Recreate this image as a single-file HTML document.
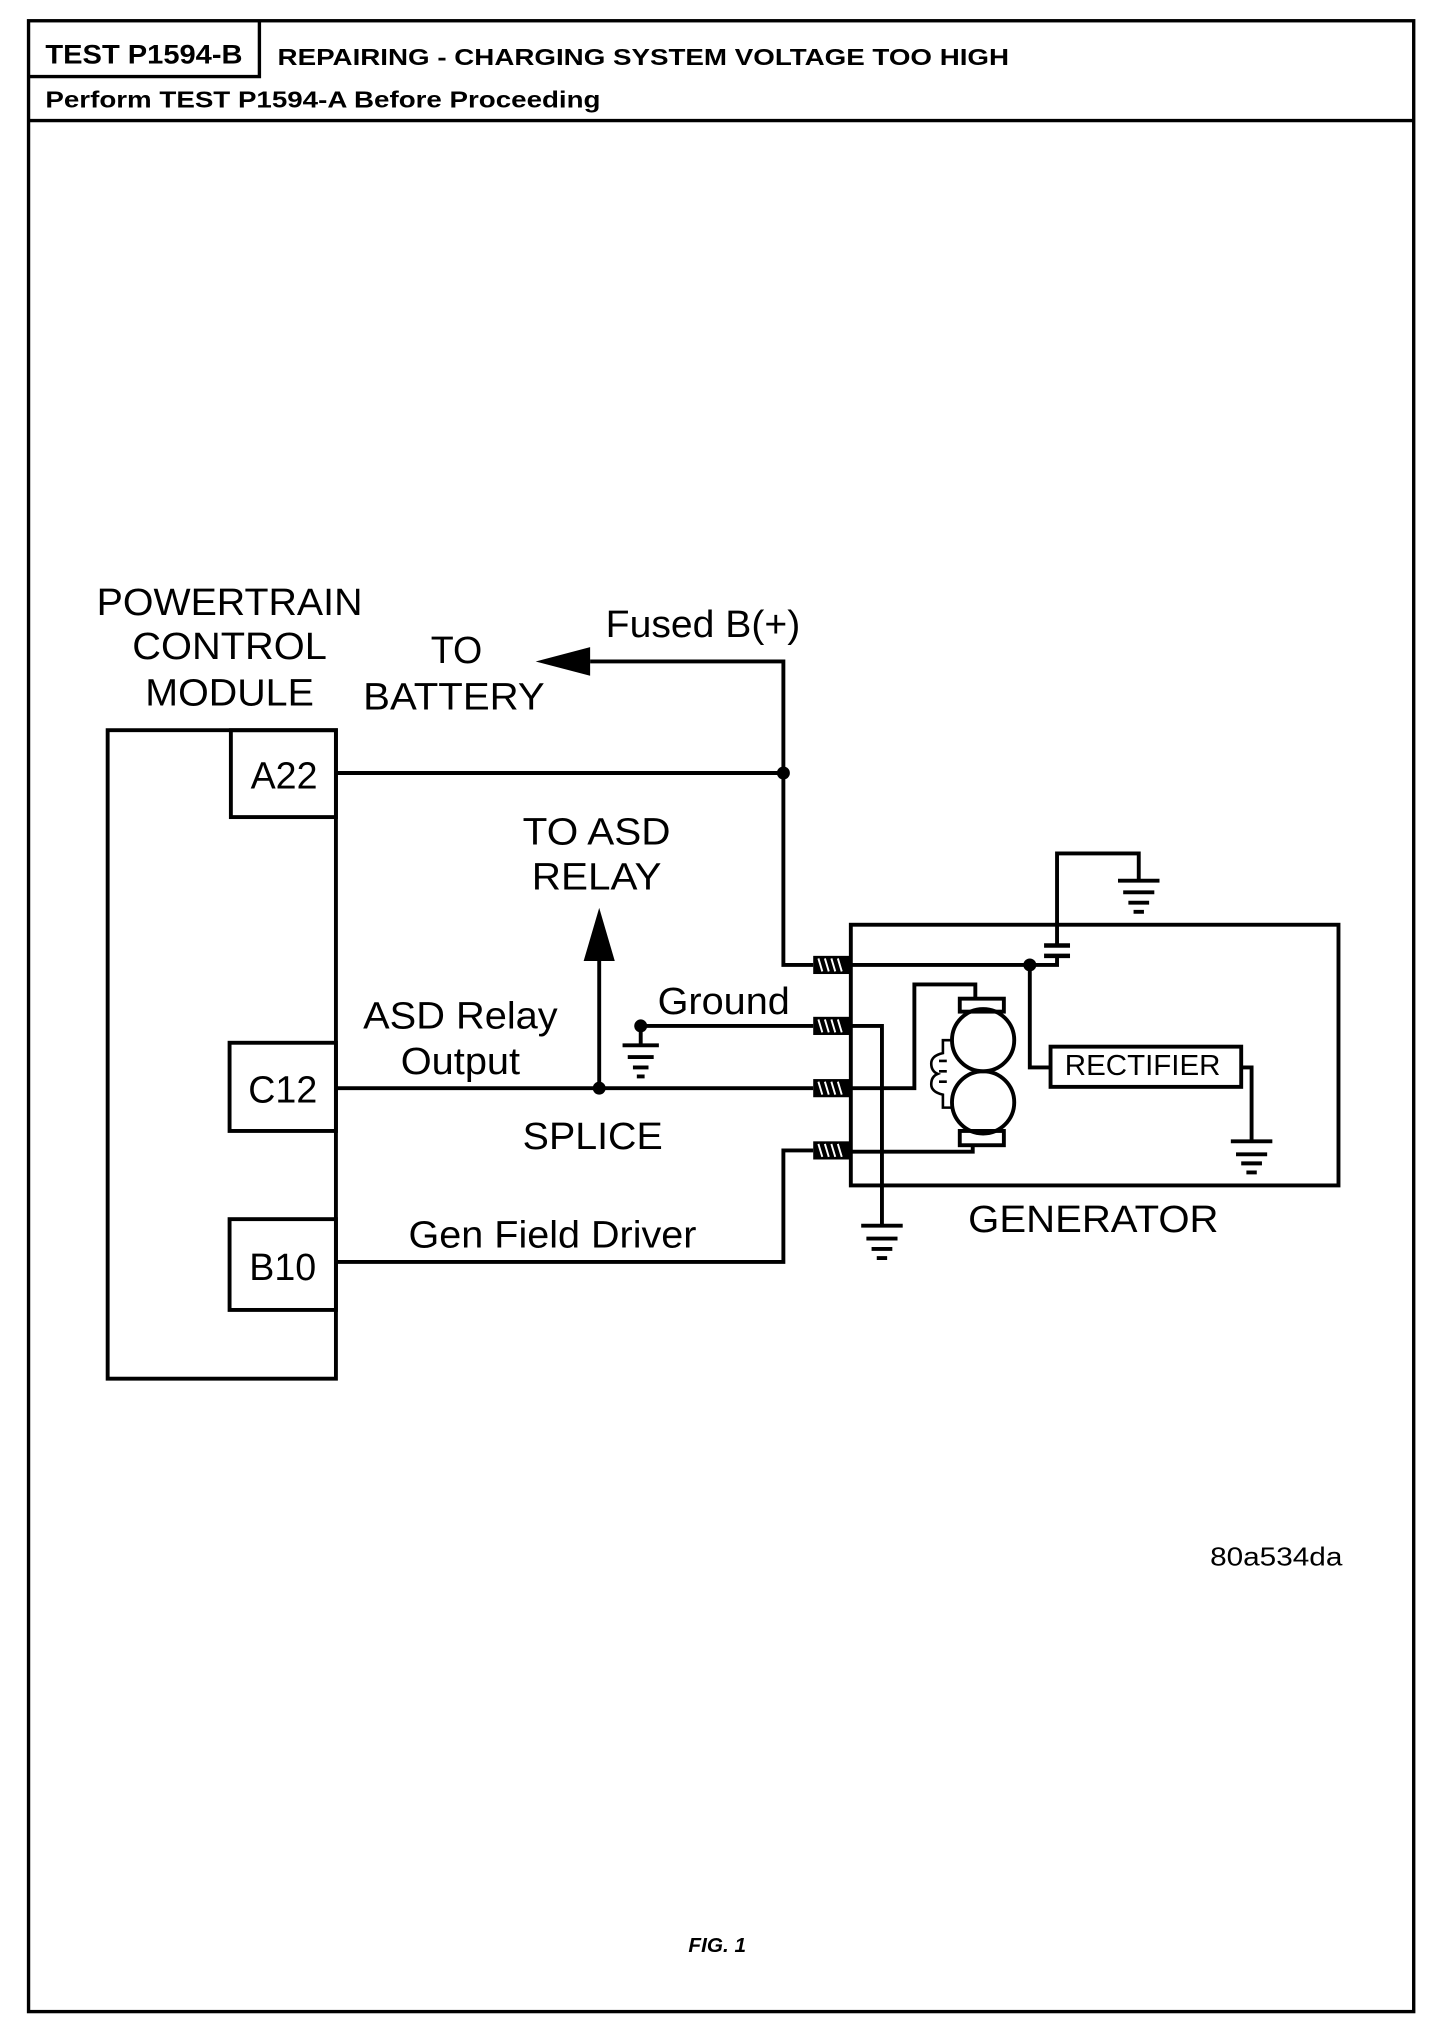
<!DOCTYPE html>
<html><head><meta charset="utf-8"><style>
html,body{margin:0;padding:0;background:#fff;}
svg{display:block;}
text{font-family:"Liberation Sans",Arial,sans-serif;fill:#000;}
</style></head><body>
<svg width="1456" height="2040" viewBox="0 0 1122.6 1572.9" xmlns="http://www.w3.org/2000/svg">
<g fill="none" stroke="#000" stroke-width="2.6">
<rect x="22" y="16" width="1068" height="1535"/>
<line x1="22" y1="93" x2="1090" y2="93"/>
<polyline points="200,16 200,59 22,59"/>
</g>
<text x="35" y="49" font-size="21" font-weight="bold" textLength="152" lengthAdjust="spacingAndGlyphs">TEST P1594-B</text>
<text x="214" y="50" font-size="18" font-weight="bold" textLength="564" lengthAdjust="spacingAndGlyphs">REPAIRING - CHARGING SYSTEM VOLTAGE TOO HIGH</text>
<text x="35" y="83" font-size="18" font-weight="bold" textLength="428" lengthAdjust="spacingAndGlyphs">Perform TEST P1594-A Before Proceeding</text>

<g font-size="29" text-anchor="middle">
<text x="177" y="474" textLength="205" lengthAdjust="spacingAndGlyphs">POWERTRAIN</text>
<text x="177" y="508" textLength="150" lengthAdjust="spacingAndGlyphs">CONTROL</text>
<text x="177" y="544" textLength="130" lengthAdjust="spacingAndGlyphs">MODULE</text>
<text x="352" y="511">TO</text>
<text x="350" y="547" textLength="140" lengthAdjust="spacingAndGlyphs">BATTERY</text>
<text x="460" y="651" textLength="114" lengthAdjust="spacingAndGlyphs">TO ASD</text>
<text x="460" y="686" textLength="100" lengthAdjust="spacingAndGlyphs">RELAY</text>
<text x="355" y="793" textLength="150" lengthAdjust="spacingAndGlyphs">ASD Relay</text>
<text x="355" y="828" textLength="92" lengthAdjust="spacingAndGlyphs">Output</text>
<text x="457" y="886" textLength="108" lengthAdjust="spacingAndGlyphs">SPLICE</text>
<text x="426" y="962" textLength="222" lengthAdjust="spacingAndGlyphs">Gen Field Driver</text>
<text x="542" y="491" textLength="150" lengthAdjust="spacingAndGlyphs">Fused B(+)</text>
<text x="558" y="782" textLength="102" lengthAdjust="spacingAndGlyphs">Ground</text>
<text x="843" y="950" textLength="193" lengthAdjust="spacingAndGlyphs">GENERATOR</text>
<text x="219" y="608">A22</text>
<text x="218" y="850">C12</text>
<text x="218" y="987">B10</text>
</g>
<text x="881" y="829" font-size="22" text-anchor="middle" textLength="120" lengthAdjust="spacingAndGlyphs">RECTIFIER</text>
<text x="984" y="1207" font-size="20" text-anchor="middle" textLength="102" lengthAdjust="spacingAndGlyphs">80a534da</text>
<text x="553" y="1505" font-size="16" font-weight="bold" font-style="italic" text-anchor="middle">FIG. 1</text>

<g fill="none" stroke="#000" stroke-width="3">
<!-- PCM -->
<rect x="83" y="563" width="176" height="500"/>
<rect x="178" y="563" width="81" height="67"/>
<rect x="177" y="804" width="82" height="68"/>
<rect x="177" y="940" width="82" height="70"/>
<!-- wires -->
<polyline points="455,510 604,510 604,744 627,744"/>
<line x1="259" y1="596" x2="604" y2="596"/>
<line x1="259" y1="839" x2="627" y2="839"/>
<line x1="462" y1="839" x2="462" y2="740"/>
<polyline points="259,973 604,973 604,887 627,887"/>
<polyline points="494,791 627,791"/>
<line x1="494" y1="791" x2="494" y2="805"/>
<!-- generator box -->
<rect x="656" y="713" width="376" height="201"/>
<!-- inside generator -->
<polyline points="655,744 815,744 815,737"/>
<line x1="805" y1="737" x2="825" y2="737" stroke-width="3.5"/>
<line x1="805" y1="729" x2="825" y2="729" stroke-width="3.5"/>
<polyline points="815,729 815,658 878,658 878,678"/>
<polyline points="794,744 794,823 810,823"/>
<rect x="810" y="807" width="147" height="31"/>
<polyline points="957,823 965,823 965,880"/>
<polyline points="655,791 680,791 680,945"/>
<polyline points="655,839 705,839 705,759 752,759 752,770"/>
<polyline points="655,888 750,888 750,883"/>
<rect x="740" y="770" width="34" height="10"/>
<rect x="740" y="872" width="34" height="11"/>
<circle cx="758" cy="802" r="24"/>
<circle cx="758" cy="850" r="24"/>
<path d="M734,802 H727 V812 Q718,814 718,820 Q718,826 723,828 Q718,830 718,836 Q718,842 727,844 V854 H734" stroke-width="2"/>
<path d="M724,818 h6 M724,826 h6 M724,834 h6" stroke-width="2"/>
</g>
<!-- arrowheads -->
<polygon points="413,510 455,499 455,521" fill="#000"/>
<polygon points="462,700 450,741 474,741" fill="#000"/>
<!-- dots -->
<g fill="#000">
<circle cx="604" cy="596" r="5"/>
<circle cx="462" cy="839" r="5"/>
<circle cx="494" cy="791" r="5"/>
<circle cx="794" cy="744" r="5"/>
</g>
<!-- connectors -->
<g>
<rect x="627" y="737" width="28" height="14" fill="#000"/>
<rect x="627" y="784" width="28" height="14" fill="#000"/>
<rect x="627" y="832" width="28" height="14" fill="#000"/>
<rect x="627" y="880" width="28" height="14" fill="#000"/>
<g stroke="#fff" stroke-width="1.5">
<path d="M631,739l3,10M636,739l3,10M641,739l3,10M646,739l3,10"/>
<path d="M631,786l3,10M636,786l3,10M641,786l3,10M646,786l3,10"/>
<path d="M631,834l3,10M636,834l3,10M641,834l3,10M646,834l3,10"/>
<path d="M631,882l3,10M636,882l3,10M641,882l3,10M646,882l3,10"/>
</g>
</g>
<!-- grounds -->
<g stroke="#000" stroke-width="3">
<path d="M480,806h28M484,815h20M488,823h12M491,830h6"/>
<path d="M862,679h32M866,688h24M870,696h16M874,703h8"/>
<path d="M949,880h32M953,890h24M957,897h16M961,904h8"/>
<path d="M664,945h32M668,955h24M672,963h16M676,970h8"/>
</g>
</svg>
</body></html>
